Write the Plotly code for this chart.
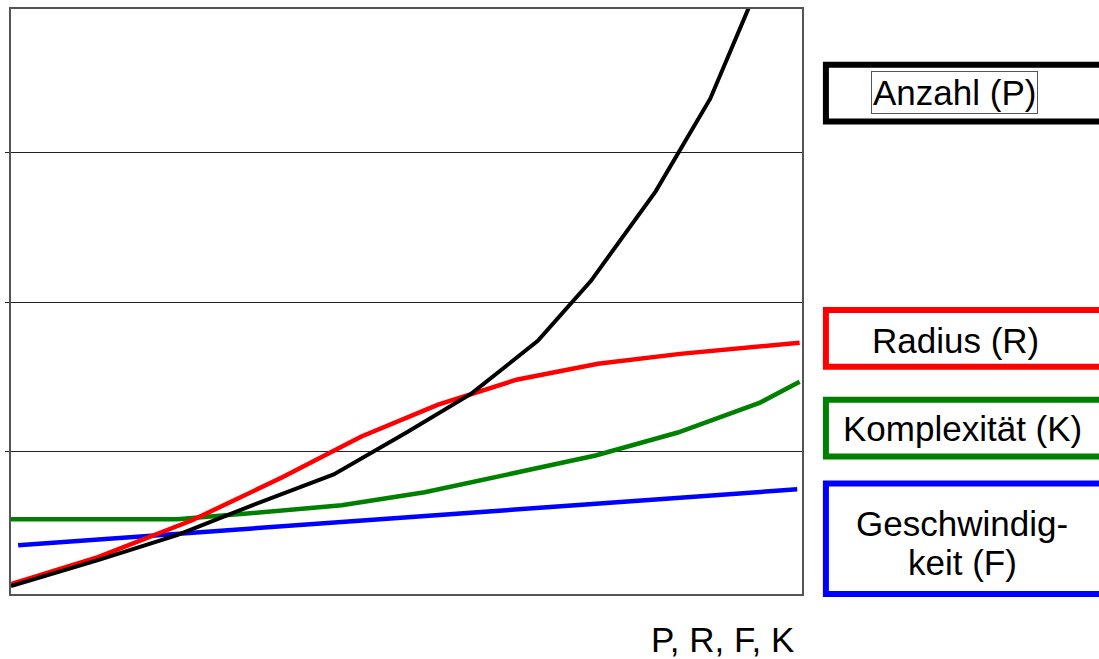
import plotly.graph_objects as go

# Series: P (Anzahl), R (Radius), K (Komplexität), F (Geschwindigkeit)
anzahl_x = [0.0, 1.10, 2.10, 3.05, 4.08, 5.00, 5.82, 6.66, 7.33, 8.15, 8.84, 9.32, 9.60]
anzahl_y = [0.10, 0.273, 0.44, 0.64, 0.847, 1.127, 1.387, 1.74, 2.14, 2.74, 3.36, 3.96, 4.50]

radius_x = [0.0, 1.10, 2.29, 3.43, 4.43, 5.40, 6.39, 7.42, 8.46, 9.97]
radius_y = [0.113, 0.293, 0.54, 0.827, 1.10, 1.313, 1.48, 1.587, 1.653, 1.727]

komplex_x = [0.0, 2.10, 3.17, 4.18, 5.23, 6.32, 7.39, 8.43, 9.47, 9.97]
komplex_y = [0.547, 0.547, 0.593, 0.64, 0.727, 0.853, 0.973, 1.127, 1.327, 1.467]

geschw_x = [0.09, 9.94]
geschw_y = [0.373, 0.747]

grid_vals = [1, 2, 3]

legend_labels = ["Anzahl (P)", "Radius (R)", "Komplexität (K)", "Geschwindig-", "keit (F)"]
x_title = "P, R, F, K"

W, H = 1099, 659
L, R, T, B = 8, 802, 7, 594
FONT = "Liberation Sans, Arial, sans-serif"


def px(x):
    return (x - L) / (R - L)


def py(y):
    return (B - y) / (B - T)


fig = go.Figure()
series = [
    (geschw_x, geschw_y, "#0000ff", 4.5),
    (komplex_x, komplex_y, "#008000", 4.5),
    (radius_x, radius_y, "#ff0000", 4.5),
    (anzahl_x, anzahl_y, "#000000", 4),
]
for xs, ys, col, w in series:
    fig.add_trace(go.Scatter(x=xs, y=ys, mode="lines",
                             line=dict(color=col, width=w),
                             showlegend=False, hoverinfo="skip"))

# Legend boxes on the right (extend past the page edge)
boxes = [
    (63, 120, "#000000"),
    (309, 366, "#ff0000"),
    (399, 456, "#008000"),
    (483, 594, "#0000ff"),
]
for y0, y1, col in boxes:
    fig.add_shape(type="rect", xref="paper", yref="paper",
                  x0=px(826), x1=px(1115), y0=py(y1), y1=py(y0),
                  line=dict(color=col, width=6), fillcolor="rgba(0,0,0,0)")

label_pos = [(955, 91), (956, 340), (963, 428), (963, 523), (963, 562)]
for (lx, ly), text in zip(label_pos, legend_labels):
    kw = {}
    if text.startswith("Anzahl"):
        kw = dict(bordercolor="#555555", borderwidth=1, borderpad=1)
    fig.add_annotation(x=px(lx), y=py(ly), xref="paper", yref="paper",
                       text=text, showarrow=False, xanchor="center", yanchor="middle",
                       font=dict(family=FONT, size=35, color="black"), **kw)

fig.add_annotation(x=px(722), y=py(640), xref="paper", yref="paper",
                   text=x_title, showarrow=False, xanchor="center", yanchor="middle",
                   font=dict(family=FONT, size=35, color="black"))

fig.update_layout(
    width=W, height=H,
    margin=dict(l=L, r=W - R, t=T, b=H - B),
    paper_bgcolor="white", plot_bgcolor="white",
    xaxis=dict(range=[0, 10], showgrid=False, zeroline=False, showticklabels=False,
               ticks="", showline=True, linecolor="#555555", linewidth=1.5, mirror=True,
               fixedrange=True),
    yaxis=dict(range=[1 - 143 / 150, 3 + 144 / 150], tickvals=grid_vals, showgrid=True,
               gridcolor="#222222", gridwidth=1, zeroline=False, showticklabels=False,
               ticks="outside", ticklen=4, tickcolor="#222222", tickwidth=1,
               showline=True, linecolor="#555555", linewidth=1.5, mirror=True,
               fixedrange=True),
)

fig.write_html("out.html")
